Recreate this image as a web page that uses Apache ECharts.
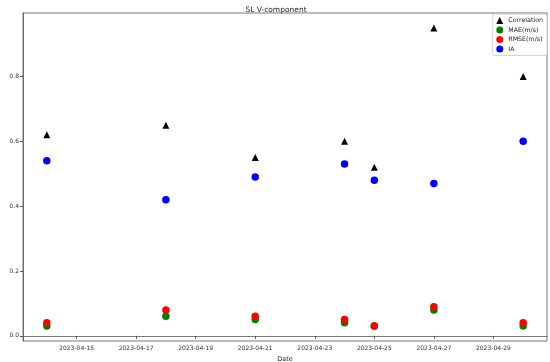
<!DOCTYPE html>
<html><head><meta charset="utf-8">
<script src="https://cdn.jsdelivr.net/npm/echarts@6/dist/echarts.min.js"></script>
<style>html,body{margin:0;padding:0;background:#fff}#c{width:550px;height:362px}</style>
</head><body><div id="c"></div>
<script>
const dates = ['2023-04-14','2023-04-18','2023-04-21','2023-04-24','2023-04-25','2023-04-27','2023-04-30'];
const correlation = [0.62, 0.65, 0.55, 0.60, 0.52, 0.95, 0.80];
const mae = [0.03, 0.06, 0.05, 0.04, 0.03, 0.08, 0.03];
const rmse = [0.04, 0.08, 0.06, 0.05, 0.03, 0.09, 0.04];
const ia = [0.54, 0.42, 0.49, 0.53, 0.48, 0.47, 0.60];
const xTickLabels = ['2023-04-15','2023-04-17','2023-04-19','2023-04-21','2023-04-23','2023-04-25','2023-04-27','2023-04-29'];
const yTicks = [0.0, 0.2, 0.4, 0.6, 0.8];

const DAY = 86400000;
const ts = d => Date.parse(d + 'T00:00:00Z');
const fmt = v => new Date(v).toISOString().slice(0,10);
const xs = dates.map(ts);
const xMin = xs[0] - 0.8*DAY, xMax = xs[xs.length-1] + 0.8*DAY;
const pair = arr => arr.map((v,i)=>[xs[i], v]);
const F = 'DejaVu Sans';
const chart = echarts.init(document.getElementById('c'), null, {renderer:'canvas'});
chart.setOption({
  animation:false,
  backgroundColor:'#fff',
  title:{text:'SL V-component', left:271, textAlign:'center', top:1, textStyle:{fontFamily:F, fontSize:7.5, fontWeight:'normal', color:'#222'}},
  grid:{left:23, right:3, top:13, bottom:21, show:true, borderColor:'#555', borderWidth:0.8, containLabel:false, outerBoundsMode:'none'},
  legend:{right:3, top:14, orient:'vertical', itemWidth:7, itemHeight:7, itemGap:2.5,
    padding:[3,4,3,4], borderColor:'#ccc', borderWidth:0.8, borderRadius:2, backgroundColor:'#fff',
    textStyle:{fontFamily:F, fontSize:6.3, color:'#222'},
    data:[{name:'Correlation', icon:'triangle'},{name:'MAE(m/s)', icon:'circle'},{name:'RMSE(m/s)', icon:'circle'},{name:'IA', icon:'circle'}]},
  xAxis:{type:'value', min:xMin, max:xMax, name:'Date', nameLocation:'middle', nameGap:13,
    nameTextStyle:{fontFamily:F, fontSize:6.5, color:'#222'},
    axisLine:{show:true, lineStyle:{color:'#555', width:0.8}},
    axisTick:{show:true, length:3, customValues:xTickLabels.map(ts), lineStyle:{color:'#555'}},
    axisLabel:{customValues:xTickLabels.map(ts), formatter:v=>fmt(v), fontFamily:F, fontSize:6, color:'#333', margin:4},
    splitLine:{show:false}},
  yAxis:{type:'value', min:-0.016, max:0.996, name:'Metric Value', nameLocation:'middle', nameGap:15,
    nameTextStyle:{fontFamily:F, fontSize:6.5, color:'#222'},
    axisLine:{show:true, lineStyle:{color:'#555', width:0.8}},
    axisTick:{show:true, length:3, customValues:yTicks, lineStyle:{color:'#555'}},
    axisLabel:{customValues:yTicks, formatter:v=>v.toFixed(1), fontFamily:F, fontSize:6, color:'#333', margin:4},
    splitLine:{show:false}},
  series:[
    {name:'Correlation', type:'scatter', symbol:'triangle', symbolSize:[7,7], itemStyle:{color:'#000', opacity:1}, data:pair(correlation)},
    {name:'MAE(m/s)', type:'scatter', symbol:'circle', symbolSize:7.5, itemStyle:{color:'#008000', opacity:1}, data:pair(mae)},
    {name:'RMSE(m/s)', type:'scatter', symbol:'circle', symbolSize:7.5, itemStyle:{color:'#ff0000', opacity:1}, data:pair(rmse)},
    {name:'IA', type:'scatter', symbol:'circle', symbolSize:7.5, itemStyle:{color:'#0000ff', opacity:1}, data:pair(ia)}
  ]
});
</script></body></html>
